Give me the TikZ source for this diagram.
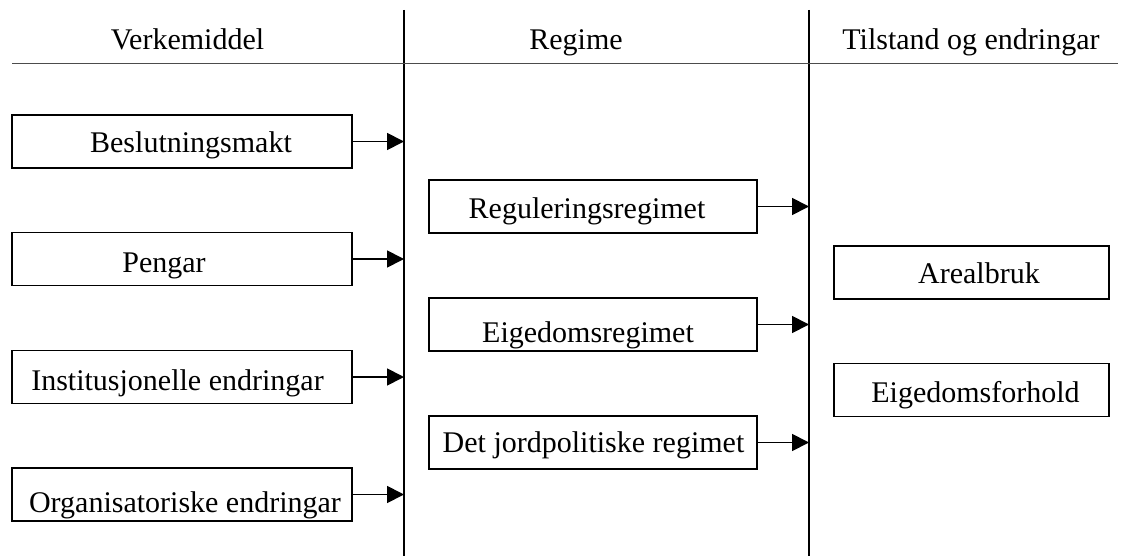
\documentclass[tikz,border=0pt]{standalone}
\usepackage{fontspec}
\setmainfont{Liberation Serif}
\usetikzlibrary{arrows.meta}
\begin{document}
\begin{tikzpicture}[x=1pt,y=-1pt,
  box/.style={draw,line width=1.6pt,inner sep=0pt,minimum height=53pt},
  lbox/.style={box,minimum width=340pt},
  mbox/.style={box,minimum width=328pt},
  rbox/.style={box,minimum width=275pt},
  txt/.style={inner sep=0pt,anchor=base,font=\fontsize{30}{36}\selectfont},
  rule/.style={line width=1.6pt},
  arr/.style={line width=1.8pt,-{Triangle[length=17pt,width=17pt]}}]
\useasboundingbox (0,0) rectangle (1126,556);
% column rules
\coordinate (v1top) at (404,10);
\coordinate (v1bot) at (404,556);
\coordinate (v2top) at (809,10);
\coordinate (v2bot) at (809,556);
\coordinate (hl) at (12,63);
\coordinate (hr) at (1118,63);
\draw[rule] (v1top) -- (v1bot);
\draw[rule] (v2top) -- (v2bot);
\draw[line width=0.8pt,black!70] (hl) -- (hr);
% headers
\node[txt] (h1) at (187.5,50) {Verkemiddel};
\node[txt] (h2) at (576,50) {Regime};
\node[txt] (h3) at (971,50) {Tilstand og endringar};
% left boxes
\node[lbox] (b1) at (182,141.5) {};
\node[lbox] (b2) at (182,259) {};
\node[lbox] (b3) at (182,377) {};
\node[lbox] (b4) at (182,494.5) {};
\node[txt] (tb1) at (191,153) {Beslutningsmakt};
\node[txt] (tb2) at (164,272) {Pengar};
\node[txt] (tb3) at (177.5,390) {Institusjonelle endringar};
\node[txt] (tb4) at (185,512) {Organisatoriske endringar};
% middle boxes
\node[mbox] (r1) at (593,206.5) {};
\node[mbox] (r2) at (593,324.5) {};
\node[mbox] (r3) at (593,442.5) {};
\node[txt] (tr1) at (587,218) {Reguleringsregimet};
\node[txt] (tr2) at (588,342) {Eigedomsregimet};
\node[txt] (tr3) at (593.5,452) {Det jordpolitiske regimet};
% right boxes
\node[rbox] (t1) at (971.5,272.5) {};
\node[rbox] (t2) at (971.5,390) {};
\node[txt] (tt1) at (979,283) {Arealbruk};
\node[txt] (tt2) at (975.5,402) {Eigedomsforhold};
% arrows
\foreach \n in {b1,b2,b3,b4}
  \draw[arr] (\n.east) -- (\n.east -| v1top);
\foreach \n in {r1,r2,r3}
  \draw[arr] (\n.east) -- (\n.east -| v2top);
\end{tikzpicture}
\end{document}
